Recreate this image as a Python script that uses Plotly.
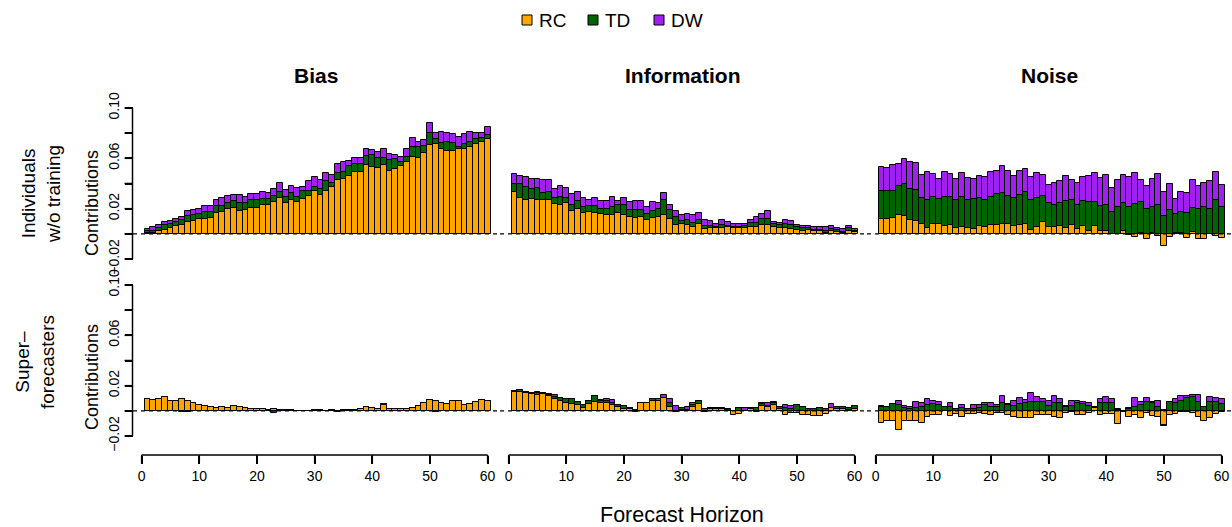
import plotly.graph_objects as go

# Forecast horizons (days) shared by every panel
horizon = list(range(1, 61))

components = ["RC", "TD", "DW"]
comp_colors = {"RC": "#FFA500", "TD": "#006400", "DW": "#A020F0"}

row_labels = ["Individuals<br>w/o training", "Super–<br>forecasters"]
col_titles = ["Bias", "Information", "Noise"]
y_tick_vals = [-0.02, 0.0, 0.02, 0.04, 0.06, 0.08, 0.10]
y_tick_text = ["−0.02", "", "0.02", "", "0.06", "", "0.10"]
x_tick_vals = [0, 10, 20, 30, 40, 50, 60]

# ---- Individuals without training ----
untrained_bias_rc = [
    .0003, .0010, .0020, .0030, .0045, .0063, .0074, .0093, .0100, .0116,
    .0116, .0127, .0169, .0172, .0196, .0206, .0180, .0190, .0209, .0209,
    .0228, .0230, .0251, .0288, .0243, .0267, .0251, .0278, .0304, .0339,
    .0307, .0344, .0370, .0429, .0434, .0460, .0489, .0489, .0548, .0534,
    .0526, .0545, .0500, .0519, .0537, .0569, .0608, .0600, .0646, .0704,
    .0712, .0672, .0661, .0661, .0677, .0677, .0693, .0717, .0728, .0751]
untrained_bias_td = [
    .0020, .0016, .0030, .0040, .0030, .0030, .0032, .0050, .0048, .0042,
    .0058, .0048, .0050, .0053, .0048, .0053, .0069, .0053, .0058, .0056,
    .0048, .0050, .0053, .0045, .0053, .0061, .0045, .0061, .0040, .0037,
    .0048, .0074, .0037, .0053, .0061, .0079, .0066, .0066, .0069, .0090,
    .0074, .0061, .0087, .0079, .0034, .0045, .0079, .0087, .0056, .0100,
    .0045, .0053, .0071, .0058, .0016, .0037, .0034, .0040, .0032, .0034]
untrained_bias_dw = [
    .0016, .0030, .0020, .0024, .0030, .0027, .0029, .0037, .0040, .0040,
    .0048, .0048, .0050, .0063, .0053, .0048, .0058, .0048, .0053, .0048,
    .0053, .0048, .0053, .0069, .0053, .0053, .0066, .0037, .0074, .0079,
    .0069, .0063, .0058, .0074, .0074, .0040, .0045, .0045, .0056, .0040,
    .0050, .0069, .0045, .0032, .0040, .0058, .0071, .0045, .0045, .0074,
    .0042, .0082, .0066, .0071, .0074, .0077, .0085, .0042, .0040, .0061]

untrained_info_rc = [
    .0331, .0283, .0272, .0275, .0272, .0267, .0267, .0238, .0228, .0243,
    .0180, .0196, .0167, .0177, .0167, .0161, .0151, .0153, .0164, .0146,
    .0132, .0122, .0130, .0106, .0122, .0132, .0153, .0116, .0074, .0082,
    .0074, .0058, .0079, .0040, .0045, .0045, .0048, .0053, .0045, .0045,
    .0045, .0053, .0058, .0071, .0071, .0053, .0045, .0045, .0040, .0032,
    .0026, .0032, .0021, .0019, .0008, .0021, .0011, .0008, .0024, .0011]
untrained_info_td = [
    .0066, .0111, .0103, .0079, .0090, .0061, .0063, .0045, .0063, .0040,
    .0050, .0063, .0045, .0045, .0056, .0040, .0045, .0063, .0063, .0082,
    .0061, .0069, .0061, .0048, .0061, .0063, .0119, .0071, .0063, .0021,
    .0032, .0026, .0032, .0026, .0016, .0008, .0021, .0011, .0013, .0013,
    .0018, .0034, .0032, .0045, .0050, .0026, .0029, .0032, .0029, .0021,
    .0019, .0011, .0011, .0008, .0011, .0016, .0021, .0008, .0019, .0013]
untrained_info_dw = [
    .0079, .0066, .0074, .0079, .0071, .0098, .0095, .0071, .0087, .0082,
    .0085, .0071, .0069, .0045, .0058, .0058, .0063, .0074, .0032, .0058,
    .0058, .0066, .0069, .0063, .0069, .0048, .0053, .0042, .0048, .0045,
    .0048, .0063, .0053, .0042, .0040, .0024, .0037, .0029, .0024, .0024,
    .0019, .0026, .0042, .0045, .0058, .0016, .0016, .0032, .0034, .0019,
    .0016, .0019, .0019, .0024, .0034, .0024, .0016, .0021, .0019, .0013]

untrained_noise_rc = [
    .0116, .0119, .0124, .0153, .0140, .0111, .0101, .0079, .0045, .0077,
    .0082, .0063, .0074, .0045, .0056, .0045, .0040, .0061, .0053, .0069,
    .0074, .0079, .0077, .0061, .0074, .0077, .0032, .0058, .0093, .0053,
    .0058, .0066, .0045, .0069, .0037, .0066, .0019, .0063, .0026, .0026,
    .0000, .0000, .0019, -.0008, -.0026, .0003, -.0040, .0010, -.0021, -.0095,
    -.0026, .0003, .0005, -.0032, .0013, -.0040, -.0040, .0000, -.0021, -.0037]
untrained_noise_td = [
    .0228, .0225, .0220, .0225, .0254, .0243, .0249, .0204, .0225, .0214,
    .0193, .0233, .0217, .0225, .0235, .0225, .0235, .0222, .0217, .0222,
    .0243, .0249, .0225, .0222, .0235, .0257, .0238, .0228, .0204, .0190,
    .0172, .0177, .0212, .0196, .0196, .0193, .0233, .0193, .0196, .0204,
    .0177, .0212, .0230, .0212, .0235, .0250, .0196, .0201, .0228, .0138,
    .0188, .0156, .0172, .0169, .0193, .0196, .0212, .0198, .0267, .0212]
untrained_noise_dw = [
    .0185, .0177, .0201, .0180, .0201, .0220, .0212, .0188, .0220, .0185,
    .0159, .0193, .0188, .0164, .0190, .0172, .0164, .0180, .0180, .0198,
    .0183, .0212, .0196, .0177, .0188, .0180, .0180, .0198, .0169, .0148,
    .0172, .0180, .0204, .0164, .0169, .0190, .0204, .0225, .0225, .0241,
    .0190, .0214, .0217, .0243, .0246, .0177, .0188, .0222, .0249, .0193,
    .0209, .0119, .0159, .0153, .0220, .0185, .0190, .0225, .0222, .0177]

# ---- Superforecasters ----
super_bias_rc = [
    .0095, .0087, .0098, .0106, .0082, .0082, .0093, .0080, .0060, .0050,
    .0042, .0029, .0024, .0029, .0021, .0037, .0034, .0024, .0016, .0016,
    .0016, .0010, .0018, .0008, .0005, .0003, -.0003, .0000, .0000, .0003,
    .0008, -.0005, .0003, -.0008, .0003, .0008, .0008, .0013, .0034, .0024,
    .0018, .0045, .0013, .0013, .0013, .0013, .0024, .0040, .0060, .0087,
    .0082, .0066, .0058, .0082, .0077, .0050, .0056, .0071, .0087, .0082]
super_bias_td = [
    .0000, .0000, .0000, .0000, .0000, .0000, -.0010, -.0010, .0000, .0000,
    .0000, .0000, .0000, .0000, .0000, .0000, .0000, .0000, .0000, .0000,
    .0000, .0000, -.0016, .0000, .0000, .0000, .0000, .0000, .0000, .0000,
    .0000, .0000, .0000, .0000, .0000, .0000, .0000, .0000, .0000, .0000,
    .0000, .0008, .0000, .0000, .0000, .0000, .0000, .0000, .0000, .0000,
    -.0012, .0000, .0000, .0000, .0000, .0000, .0000, .0000, .0000, .0000]
super_bias_dw = [
    .0000, .0000, .0000, .0000, .0000, .0000, .0000, .0000, .0000, .0000,
    .0000, .0000, .0000, .0000, .0000, .0000, .0000, .0000, .0000, .0000,
    .0000, .0000, .0000, .0000, .0000, .0000, .0000, .0000, .0000, .0000,
    .0000, .0000, .0000, .0000, .0000, .0000, .0000, .0000, .0000, .0000,
    .0000, .0000, .0000, .0000, .0000, .0000, .0000, .0000, .0000, .0000,
    .0000, .0000, .0000, .0000, .0005, .0000, .0000, .0000, .0000, .0000]

super_info_rc = [
    .0148, .0153, .0140, .0132, .0122, .0132, .0114, .0095, .0079, .0066,
    .0053, .0048, .0026, .0056, .0074, .0061, .0061, .0050, .0029, .0016,
    .0013, .0008, .0066, .0066, .0077, .0077, .0100, .0034, .0000, .0008,
    .0005, .0034, .0056, -.0013, .0013, .0013, .0013, .0003, -.0034, -.0026,
    .0000, .0013, -.0008, .0040, .0029, .0045, .0013, -.0032, -.0021, -.0020,
    -.0035, -.0037, -.0040, -.0040, -.0026, .0024, .0018, .0013, .0003, .0018]
super_info_td = [
    .0010, .0010, .0010, .0010, .0018, .0013, .0008, .0018, .0026, .0029,
    .0040, .0024, .0024, .0026, .0040, .0021, .0016, .0010, .0021, .0024,
    .0013, -.0008, .0000, .0000, .0016, .0000, .0005, .0026, -.0010, .0013,
    .0000, .0010, .0026, .0000, .0010, .0010, .0000, .0008, .0000, .0026,
    .0000, .0008, .0020, .0013, .0010, .0016, .0016, .0020, .0018, .0048,
    .0030, .0013, .0013, .0020, .0013, .0000, .0016, .0016, .0018, .0021]
super_info_dw = [
    .0000, .0000, .0000, .0000, .0008, .0000, .0010, .0016, .0000, .0000,
    .0000, .0000, .0000, .0000, .0000, .0008, .0016, .0026, .0000, .0000,
    .0000, .0000, .0000, .0000, .0000, .0016, .0019, .0037, .0040, .0000,
    .0029, .0016, .0000, .0013, .0000, .0000, .0013, .0000, .0000, .0000,
    .0024, .0000, .0000, .0008, .0021, .0013, .0000, .0029, .0021, .0000,
    .0000, .0000, .0000, .0000, .0000, .0030, .0000, .0000, .0000, .0000]

super_noise_rc = [
    -.0098, -.0080, -.0082, -.0153, -.0080, -.0077, -.0082, -.0098, -.0048, -.0032,
    -.0034, .0000, -.0040, -.0026, -.0045, -.0029, -.0026, -.0016, -.0024, -.0037,
    -.0016, -.0016, -.0034, -.0045, -.0058, -.0058, -.0053, -.0034, -.0037, -.0037,
    -.0045, -.0058, -.0018, -.0008, -.0037, -.0037, -.0016, .0020, -.0037, -.0024,
    -.0026, -.0106, .0000, -.0045, -.0037, -.0053, -.0020, -.0040, -.0045, -.0110,
    -.0032, -.0026, -.0013, -.0013, -.0016, -.0045, -.0077, -.0053, -.0024, -.0013]
super_noise_td = [
    .0034, .0029, .0053, .0045, .0026, .0016, .0026, .0034, .0048, .0056,
    .0050, .0034, .0029, .0018, .0024, .0018, .0013, .0024, .0045, .0034,
    .0029, .0061, .0045, .0042, .0053, .0061, .0071, .0069, .0071, .0037,
    .0061, .0061, .0029, .0042, .0061, .0056, .0042, .0013, .0061, .0061,
    .0061, .0005, -.0008, .0013, .0029, .0048, .0069, .0061, .0034, -.0010,
    .0069, .0066, .0082, .0100, .0108, .0074, .0029, .0069, .0069, .0056]
super_noise_dw = [
    .0008, .0000, .0000, .0032, .0010, .0013, .0042, .0032, .0050, .0021,
    .0019, .0000, .0037, .0000, .0024, .0000, .0032, .0021, .0021, .0032,
    .0021, .0058, .0010, .0040, .0048, .0026, .0069, .0037, .0024, .0042,
    .0058, .0032, .0010, .0040, .0021, .0016, .0019, .0000, .0034, .0048,
    .0032, .0010, .0000, .0008, .0074, .0019, .0032, .0010, .0042, .0008,
    .0000, .0029, .0032, .0019, .0019, .0048, .0005, .0040, .0034, .0037]

panel_data = [
    [  # row 0: individuals without training
        {"RC": untrained_bias_rc, "TD": untrained_bias_td, "DW": untrained_bias_dw},
        {"RC": untrained_info_rc, "TD": untrained_info_td, "DW": untrained_info_dw},
        {"RC": untrained_noise_rc, "TD": untrained_noise_td, "DW": untrained_noise_dw},
    ],
    [  # row 1: superforecasters
        {"RC": super_bias_rc, "TD": super_bias_td, "DW": super_bias_dw},
        {"RC": super_info_rc, "TD": super_info_td, "DW": super_info_dw},
        {"RC": super_noise_rc, "TD": super_noise_td, "DW": super_noise_dw},
    ],
]

# ---- page geometry (pixels) ----
W, H = 1232, 527
col_left = [133, 500, 867]
col_width = 365
row_top = [108, 285]      # pixel of y = 0.10
row_bottom = [259, 436]   # pixel of y = -0.02
x_range = [-1.5, 61.8]
y_range = [-0.02, 0.10]
x_axis_px = 455
y_axis_px = 132.5
TICK_LEN = 8

FONT = "Liberation Sans, Arial, Helvetica, sans-serif"
TICK_SIZE = 14
AXIS_W = 1.5


def px(x):
    return x / W


def py(y):
    return 1 - y / H


def x_to_px(c, v):
    return col_left[c] + (v - x_range[0]) * col_width / (x_range[1] - x_range[0])


def y_to_px(r, v):
    return row_top[r] + (y_range[1] - v) * (row_bottom[r] - row_top[r]) / (y_range[1] - y_range[0])


fig = go.Figure()
layout = dict(
    width=W, height=H, autosize=False,
    margin=dict(l=0, r=0, t=0, b=0, pad=0, autoexpand=False),
    paper_bgcolor="white", plot_bgcolor="rgba(0,0,0,0)",
    barmode="relative", bargap=0,
    showlegend=False,
    font=dict(family=FONT, color="black"),
)
shapes = []
annotations = []

for r in range(2):
    for c in range(3):
        k = r * 3 + c + 1
        xa = "x" if k == 1 else f"x{k}"
        ya = "y" if k == 1 else f"y{k}"
        data = panel_data[r][c]
        for comp in components:
            fig.add_trace(go.Bar(
                x=horizon, y=data[comp], width=1,
                marker=dict(color=comp_colors[comp],
                            line=dict(color="black", width=1)),
                name=comp, xaxis=xa, yaxis=ya, hoverinfo="skip",
            ))
        xkey = "xaxis" if k == 1 else f"xaxis{k}"
        ykey = "yaxis" if k == 1 else f"yaxis{k}"
        xdom = [px(col_left[c]), px(col_left[c] + col_width)]
        ydom = [py(row_bottom[r]), py(row_top[r])]
        xax = dict(domain=xdom, range=x_range, showgrid=False, zeroline=False,
                   showline=False, fixedrange=True, automargin=False)
        if r == 1:
            xax.update(anchor="free", position=py(x_axis_px),
                       tickmode="array", tickvals=x_tick_vals,
                       ticks="outside", ticklen=TICK_LEN, tickwidth=AXIS_W,
                       tickcolor="#000000",
                       tickfont=dict(size=TICK_SIZE, family=FONT, color="black"))
        else:
            xax.update(anchor=ya, showticklabels=False, ticks="")
        layout[xkey] = xax

        yax = dict(domain=ydom, range=y_range, showgrid=False,
                   zeroline=False, fixedrange=True, automargin=False)
        if c == 0:
            yax.update(anchor="free", position=px(y_axis_px),
                       showline=False,
                       tickmode="array", tickvals=y_tick_vals, ticktext=y_tick_text,
                       ticks="outside", ticklen=TICK_LEN, tickwidth=AXIS_W,
                       tickcolor="#000000", tickangle=-90,
                       tickfont=dict(size=TICK_SIZE, family=FONT, color="black"))
        else:
            yax.update(anchor=xa, showline=False, showticklabels=False, ticks="")
        layout[ykey] = yax

        # dashed reference line at zero across the panel
        shapes.append(dict(type="line", xref=f"{xa} domain", yref=ya,
                           x0=0, x1=1, y0=0, y1=0, layer="above",
                           line=dict(color="black", width=1.2, dash="4px,4px")))

# ---- axis spines and tick marks on a page-sized overlay (pixel units) ----
spine_x, spine_y = [], []
for r in range(2):
    # left spine from -0.02 to 0.10 plus its ticks
    spine_x += [y_axis_px, y_axis_px, None]
    spine_y += [y_to_px(r, y_range[0]), y_to_px(r, y_range[1]), None]
    for v in y_tick_vals:
        yy = y_to_px(r, v)
        spine_x += [y_axis_px - TICK_LEN, y_axis_px, None]
        spine_y += [yy, yy, None]
for c in range(3):
    # bottom spine from 0 to 60 plus its ticks
    spine_x += [x_to_px(c, x_tick_vals[0]), x_to_px(c, x_tick_vals[-1]), None]
    spine_y += [x_axis_px, x_axis_px, None]
    for v in x_tick_vals:
        xx = x_to_px(c, v)
        spine_x += [xx, xx, None]
        spine_y += [x_axis_px, x_axis_px + TICK_LEN, None]

fig.add_trace(go.Scatter(x=spine_x, y=spine_y, mode="lines",
                         line=dict(color="#000000", width=AXIS_W),
                         xaxis="x7", yaxis="y7", hoverinfo="skip",
                         cliponaxis=False))
layout["xaxis7"] = dict(domain=[0, 1], range=[0, W], visible=False,
                        fixedrange=True, anchor="y7")
layout["yaxis7"] = dict(domain=[0, 1], range=[H, 0], visible=False,
                        fixedrange=True, anchor="x7")

# column titles
for c, title in enumerate(col_titles):
    annotations.append(dict(text=f"<b>{title}</b>", x=px(col_left[c] + col_width / 2),
                            y=py(75), xref="paper", yref="paper", showarrow=False,
                            xanchor="center", yanchor="middle",
                            font=dict(size=21, family=FONT)))

# row labels and y-axis titles
row_label_pos = [(41, 194), (35, 362)]
contrib_pos = [(92, 203), (92, 377)]
for r in range(2):
    annotations.append(dict(text=row_labels[r], x=px(row_label_pos[r][0]),
                            y=py(row_label_pos[r][1]), xref="paper", yref="paper",
                            showarrow=False, textangle=-90,
                            xanchor="center", yanchor="middle",
                            font=dict(size=19, family=FONT)))
    annotations.append(dict(text="Contributions", x=px(contrib_pos[r][0]),
                            y=py(contrib_pos[r][1]), xref="paper", yref="paper",
                            showarrow=False, textangle=-90,
                            xanchor="center", yanchor="middle",
                            font=dict(size=18, family=FONT)))

annotations.append(dict(text="Forecast Horizon", x=px(682), y=py(515),
                        xref="paper", yref="paper", showarrow=False,
                        xanchor="center", yanchor="middle",
                        font=dict(size=21.5, family=FONT)))

# legend drawn as boxes + labels across the top
legend_box_x = [527, 593, 659]
for comp, bx in zip(components, legend_box_x):
    shapes.append(dict(type="rect", xref="paper", yref="paper",
                       x0=px(bx - 5), x1=px(bx + 5), y0=py(25), y1=py(15),
                       fillcolor=comp_colors[comp], line=dict(color="black", width=1)))
    annotations.append(dict(text=comp, x=px(bx + 10), y=py(20), xref="paper",
                            yref="paper", xanchor="left", yanchor="middle",
                            showarrow=False, font=dict(size=19, family=FONT)))

layout["shapes"] = shapes
layout["annotations"] = annotations
fig.update_layout(**layout)
fig.write_html("out.html")
